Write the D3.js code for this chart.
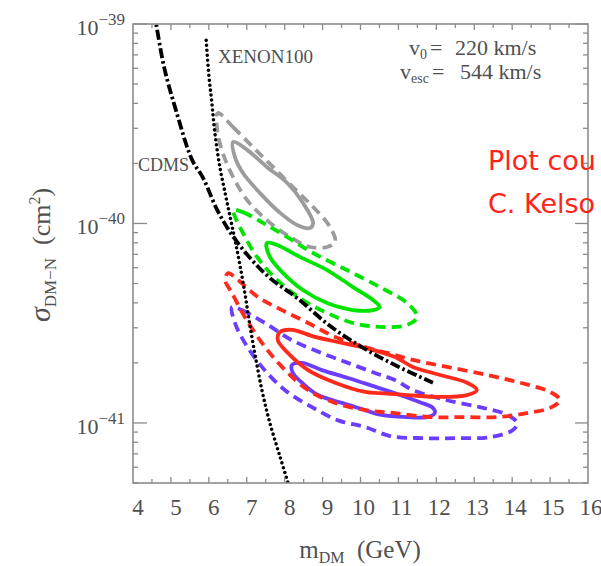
<!DOCTYPE html>
<html><head><meta charset="utf-8">
<script src="https://cdn.jsdelivr.net/npm/d3@7"></script>
<style>body{margin:0;background:#fff}svg{display:block}</style>
</head><body>
<svg id="c" width="601" height="566"></svg>
<script>
// ---- data ----
const xTickLabels = [4,5,6,7,8,9,10,11,12,13,14,15,16];
const yMajorValues = [1e-41, 1e-40, 1e-39];
const yMajorExponents = ["\u221241", "\u221240", "\u221239"];

const cdms = [[4.55,1.15e-39],[4.61,1.0e-39],[4.82,6.08e-40],[5.13,3.71e-40],[5.56,2.08e-40],[5.85,1.69e-40],
  [6.22,1.17e-40],[6.61,8.77e-41],[7.09,6.71e-41],[7.61,5.33e-41],[8.33,4.23e-41],[9.20,3.06e-41],
  [10.07,2.38e-41],[10.96,1.93e-41],[11.91,1.59e-41]];
const xenon100 = [[5.93,8.28e-40],[6.00,5.55e-40],[6.08,4.02e-40],[6.16,2.84e-40],[6.29,1.92e-40],[6.43,1.42e-40],
  [6.56,1.08e-40],[6.69,8.27e-41],[6.82,6.19e-41],[6.95,4.48e-41],[7.06,3.28e-41],[7.22,2.19e-41],
  [7.40,1.46e-41],[7.61,1.00e-41],[7.88,6.75e-42],[8.09,5.0e-42],[8.15,4.6e-42]];

const grayOuter = [[6.24,3.58e-40],[6.64,3.04e-40],[7.16,2.42e-40],[7.69,1.92e-40],[8.22,1.52e-40],[8.75,1.21e-40],
  [9.20,9.59e-41],[9.33,8.08e-41],[9.12,7.62e-41],[8.67,7.62e-41],[8.14,8.56e-41],[7.53,1.04e-40],
  [7.01,1.31e-40],[6.64,1.71e-40],[6.37,2.25e-40],[6.22,2.94e-40]];
const grayInner = [[6.64,2.56e-40],[7.01,2.34e-40],[7.53,1.92e-40],[8.06,1.60e-40],[8.48,1.27e-40],[8.75,1.006e-40],
  [8.67,9.49e-41],[8.33,9.83e-41],[7.88,1.13e-40],[7.35,1.42e-40],[6.90,1.79e-40],[6.69,2.15e-40]];
const greenOuter = [[6.64,1.17e-40],[6.90,1.14e-40],[7.43,1.006e-40],[8.06,8.56e-41],[8.75,7.11e-41],[9.64,5.84e-41],
  [10.51,4.80e-41],[11.23,3.99e-41],[11.49,3.40e-41],[11.23,3.10e-41],[10.51,3.03e-41],[9.80,3.17e-41],
  [9.12,3.56e-41],[8.48,4.13e-41],[7.80,5.21e-41],[7.27,6.80e-41],[6.90,8.96e-41],[6.69,1.08e-40]];
const greenInner = [[7.53,7.98e-41],[7.80,7.80e-41],[8.40,6.80e-41],[9.12,5.84e-41],[9.80,4.80e-41],[10.33,4.13e-41],
  [10.51,3.81e-41],[10.33,3.68e-41],[9.80,3.68e-41],[9.12,3.99e-41],[8.48,4.64e-41],[7.96,5.64e-41],[7.61,6.80e-41]];
const redOuter = [[6.51,5.64e-41],[6.77,5.21e-41],[7.30,4.27e-41],[7.93,3.68e-41],[8.62,3.17e-41],[9.33,2.70e-41],
  [10.12,2.40e-41],[10.73,2.24e-41],[11.38,2.07e-41],[12.28,1.91e-41],[13.34,1.74e-41],[14.21,1.59e-41],
  [15.00,1.43e-41],[15.26,1.30e-41],[15.00,1.19e-41],[14.39,1.12e-41],[13.60,1.07e-41],[12.70,1.07e-41],
  [11.83,1.07e-41],[10.91,1.12e-41],[10.12,1.16e-41],[9.33,1.26e-41],[8.62,1.46e-41],[7.93,1.91e-41],
  [7.40,2.52e-41],[6.95,3.40e-41],[6.61,4.48e-41],[6.43,5.21e-41]];
const redInner = [[7.88,2.86e-41],[8.19,2.93e-41],[8.80,2.70e-41],[9.51,2.52e-41],[10.12,2.38e-41],[10.91,2.14e-41],
  [11.38,1.91e-41],[12.10,1.74e-41],[12.81,1.59e-41],[13.07,1.46e-41],[12.81,1.38e-41],[12.10,1.35e-41],
  [11.23,1.38e-41],[10.51,1.41e-41],[10.12,1.43e-41],[9.33,1.59e-41],[8.62,1.84e-41],[8.09,2.24e-41],[7.82,2.60e-41]];
const blueOuter = [[6.61,3.81e-41],[6.87,3.68e-41],[7.48,3.17e-41],[8.19,2.60e-41],[8.98,2.24e-41],[9.67,2.00e-41],
  [10.38,1.78e-41],[10.91,1.64e-41],[11.38,1.46e-41],[12.28,1.30e-41],[13.15,1.20e-41],[13.86,1.10e-41],
  [14.13,1.00e-41],[14.02,9.22e-42],[13.42,8.49e-42],[12.55,8.39e-42],[11.65,8.39e-42],[10.78,8.60e-42],
  [10.12,9.55e-42],[9.41,1.03e-41],[8.72,1.20e-41],[8.01,1.46e-41],[7.40,1.91e-41],[6.95,2.52e-41],[6.69,3.17e-41]];
const blueInner = [[8.19,1.95e-41],[8.46,2.00e-41],[8.98,1.84e-41],[9.67,1.68e-41],[10.38,1.52e-41],[10.91,1.41e-41],
  [11.57,1.27e-41],[11.91,1.19e-41],[11.96,1.12e-41],[11.75,1.07e-41],[11.23,1.07e-41],[10.51,1.10e-41],
  [10.12,1.16e-41],[9.51,1.26e-41],[8.88,1.38e-41],[8.46,1.59e-41],[8.22,1.78e-41]];

// ---- layout ----
const L = 133, R = 588, T = 24, B = 483;
const svg = d3.select("#c");
const x = d3.scaleLinear().domain([4, 16]).range([L, R]);
const y = d3.scaleLog().domain([5e-42, 1e-39]).range([B, T]);
const serif = "'Liberation Serif','Times New Roman',serif";
const txt = "#505050", axisCol = "#8c8c8c";

svg.append("defs").append("clipPath").attr("id", "clip")
  .append("rect").attr("x", L).attr("y", T).attr("width", R - L).attr("height", B - T);

const g = svg.append("g").attr("clip-path", "url(#clip)");
const open = d3.line().x(d => x(d[0])).y(d => y(d[1])).curve(d3.curveCatmullRom.alpha(0.5));
const closed = d3.line().x(d => x(d[0])).y(d => y(d[1])).curve(d3.curveCatmullRomClosed.alpha(0.5));

const contours = [
  [grayOuter, "#9c9c9c", true], [grayInner, "#9c9c9c", false],
  [greenOuter, "#00e400", true], [greenInner, "#00e400", false],
  [blueOuter, "#6a3dff", true], [blueInner, "#6a3dff", false],
  [redOuter, "#ff2a1c", true], [redInner, "#ff2a1c", false]
];
contours.forEach(([d, c, dashed]) => {
  g.append("path").attr("d", closed(d)).attr("fill", "none").attr("stroke", c)
    .attr("stroke-width", 3.8).attr("stroke-dasharray", dashed ? "10,6" : null);
});
g.append("path").attr("d", open(xenon100)).attr("fill", "none").attr("stroke", "#000")
  .attr("stroke-width", 3.6).attr("stroke-linecap", "round").attr("stroke-dasharray", "0,5");
g.append("path").attr("d", open(cdms)).attr("fill", "none").attr("stroke", "#000")
  .attr("stroke-width", 3.8).attr("stroke-dasharray", "10,3,2.5,3");

// ---- frame & ticks ----
svg.append("rect").attr("x", L).attr("y", T).attr("width", R - L).attr("height", B - T)
  .attr("fill", "none").attr("stroke", axisCol).attr("stroke-width", 1.6);

const xMinor = d3.range(4.5, 16, 0.5);
const tk = svg.append("g").attr("stroke", axisCol).attr("stroke-width", 1.3);
xMinor.forEach(v => {
  const len = Number.isInteger(v) ? 6 : 4;
  tk.append("line").attr("x1", x(v)).attr("x2", x(v)).attr("y1", B).attr("y2", B - len);
  tk.append("line").attr("x1", x(v)).attr("x2", x(v)).attr("y1", T).attr("y2", T + len);
});
const yMinor = [];
[-42, -41, -40].forEach(e => { for (let k = 2; k <= 9; k++) { const v = k * Math.pow(10, e); if (v >= 5e-42 && v < 1e-39) yMinor.push(v); } });
yMinor.forEach(v => {
  tk.append("line").attr("x1", L).attr("x2", L + 5).attr("y1", y(v)).attr("y2", y(v));
  tk.append("line").attr("x1", R).attr("x2", R - 5).attr("y1", y(v)).attr("y2", y(v));
});
yMajorValues.forEach(v => {
  tk.append("line").attr("x1", L).attr("x2", L + 14).attr("y1", y(v)).attr("y2", y(v));
  tk.append("line").attr("x1", R).attr("x2", R - 13).attr("y1", y(v)).attr("y2", y(v));
});

// ---- tick labels ----
xTickLabels.forEach(v => {
  svg.append("text").attr("x", x(v) + (v < 10 ? 5 : 3)).attr("y", 515).attr("text-anchor", "middle")
    .attr("font-family", serif).attr("font-size", 23).attr("fill", txt).text(v);
});
yMajorValues.forEach((v, i) => {
  const t = svg.append("text").attr("x", 125).attr("y", y(v) + 11).attr("text-anchor", "end")
    .attr("font-family", serif).attr("font-size", 22).attr("fill", txt);
  t.append("tspan").text("10");
  t.append("tspan").attr("dy", -10).attr("font-size", 17).text(yMajorExponents[i]);
});

// ---- axis titles ----
const xt = svg.append("text").attr("x", 360).attr("y", 558).attr("text-anchor", "middle")
  .attr("font-family", serif).attr("font-size", 25).attr("fill", txt);
xt.append("tspan").text("m");
xt.append("tspan").attr("dy", 5).attr("font-size", 16).text("DM");
xt.append("tspan").attr("dy", -5).text("\u00a0\u00a0(GeV)");

const yt = svg.append("text").attr("transform", "translate(50,255) rotate(-90)").attr("text-anchor", "middle")
  .attr("font-family", serif).attr("font-size", 26).attr("fill", txt);
yt.append("tspan").attr("font-size", 30).attr("font-style", "italic").text("\u03c3");
yt.append("tspan").attr("dy", 6).attr("font-size", 17).text("DM\u2212N");
yt.append("tspan").attr("dy", -6).text("\u00a0\u00a0(cm");
yt.append("tspan").attr("dy", -10).attr("font-size", 16).text("2");
yt.append("tspan").attr("dy", 10).text(")");

// ---- annotations ----
svg.append("text").attr("x", 218).attr("y", 63).attr("font-family", serif).attr("font-size", 19)
  .attr("fill", txt).text("XENON100");
svg.append("text").attr("x", 138).attr("y", 171).attr("font-family", serif).attr("font-size", 18)
  .attr("fill", txt).text("CDMS");

function vel(yb, sub, val, eqx, valx) {
  const a = svg.append("text").attr("x", eqx - 3).attr("y", yb).attr("text-anchor", "end")
    .attr("font-family", serif).attr("font-size", 22).attr("fill", txt);
  a.append("tspan").text("v");
  a.append("tspan").attr("dy", 4).attr("font-size", 14).text(sub);
  svg.append("text").attr("x", eqx).attr("y", yb).attr("font-family", serif).attr("font-size", 22)
    .attr("fill", txt).text("=");
  svg.append("text").attr("x", valx).attr("y", yb).attr("font-family", serif).attr("font-size", 22)
    .attr("fill", txt).text(val);
}
vel(55, "0", "220 km/s", 430, 455);
vel(79, "esc", "544 km/s", 432, 460);

// credit text (only the part visible in the reference, kept inside the page)
const red = svg.append("g").attr("font-family", "'DejaVu Sans',sans-serif").attr("font-size", 27).attr("fill", "#ff2418");
red.append("text").attr("x", 488).attr("y", 170).text("Plot cou");
red.append("text").attr("x", 488).attr("y", 213).text("C. Kelso");
</script>
</body></html>
